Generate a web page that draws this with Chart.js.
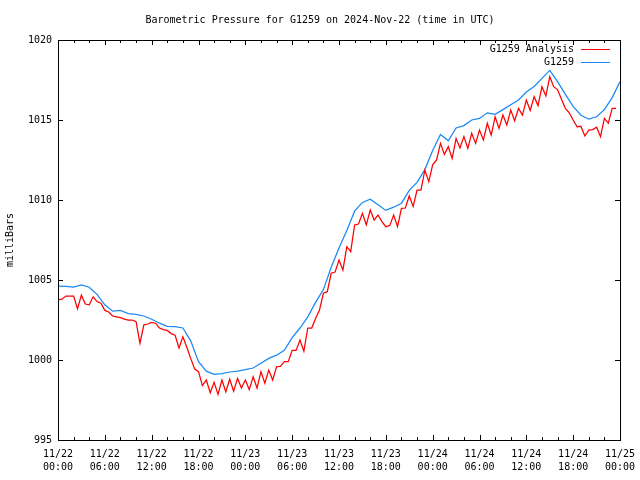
<!DOCTYPE html>
<html>
<head>
<meta charset="utf-8">
<script src="https://cdn.jsdelivr.net/npm/chart.js@4.4.1/dist/chart.umd.min.js"></script>
<style>
  html, body { margin: 0; padding: 0; background: #fff; }
</style>
</head>
<body>
<canvas id="myChart" width="640" height="480"></canvas>
<script>

var chartTitle = 'Barometric Pressure for G1259 on 2024-Nov-22 (time in UTC)';
var yLabel = 'milliBars';
var seriesNames = ['G1259 Analysis', 'G1259'];
var seriesColors = ['#ff0000', '#1a88f5'];

// x axis is hours since 11/22 00:00 UTC
var xTickHours = [0, 6, 12, 18, 24, 30, 36, 42, 48, 54, 60, 66, 72];
var xTickDates = ['11/22', '11/22', '11/22', '11/22', '11/23', '11/23', '11/23', '11/23', '11/24', '11/24', '11/24', '11/24', '11/25'];
var xTickTimes = ['00:00', '06:00', '12:00', '18:00', '00:00', '06:00', '12:00', '18:00', '00:00', '06:00', '12:00', '18:00', '00:00'];
var yTicks = [995, 1000, 1005, 1010, 1015, 1020];

// analysis, every 30 min
var analysisStep = 0.5;
var analysis = [
  1003.75, 1003.8, 1004.0, 1004.0, 1004.0, 1003.2, 1004.05, 1003.5, 1003.45, 1003.95,
  1003.65, 1003.55, 1003.1, 1003.0, 1002.75, 1002.7, 1002.65, 1002.55, 1002.5, 1002.5,
  1002.4, 1001.05, 1002.2, 1002.25, 1002.35, 1002.3, 1002.0, 1001.9, 1001.85, 1001.65,
  1001.55, 1000.75, 1001.45, 1000.8, 1000.1, 999.45, 999.27, 998.4, 998.75, 997.95,
  998.6, 997.85, 998.75, 998.0, 998.8, 998.05, 998.85, 998.25, 998.75, 998.15,
  998.95, 998.25, 999.27, 998.55, 999.37, 998.75, 999.58, 999.6, 999.9, 999.9,
  1000.6, 1000.6, 1001.25, 1000.55, 1002.0, 1002.0, 1002.6, 1003.12, 1004.17, 1004.27,
  1005.42, 1005.5, 1006.25, 1005.62, 1007.08, 1006.77, 1008.44, 1008.5, 1009.17, 1008.45,
  1009.37, 1008.75, 1009.06, 1008.65, 1008.33, 1008.4, 1009.06, 1008.33, 1009.48, 1009.5,
  1010.25, 1009.6, 1010.62, 1010.62, 1011.87, 1011.15, 1012.2, 1012.5, 1013.54, 1012.85,
  1013.33, 1012.6, 1013.85, 1013.25, 1013.96, 1013.23, 1014.17, 1013.54, 1014.37, 1013.75,
  1014.79, 1014.06, 1015.2, 1014.48, 1015.31, 1014.69, 1015.62, 1014.95, 1015.73, 1015.31,
  1016.25, 1015.6, 1016.46, 1015.9, 1017.08, 1016.5, 1017.7, 1017.08, 1016.9, 1016.3,
  1015.73, 1015.45, 1015.0, 1014.58, 1014.6, 1014.0, 1014.37, 1014.4, 1014.55, 1013.96,
  1015.1, 1014.8, 1015.73, 1015.73
];

// station, hourly
var stationStep = 1;
var station = [
  1004.62, 1004.6, 1004.55, 1004.7, 1004.55, 1004.1, 1003.45, 1003.05, 1003.1, 1002.9,
  1002.85, 1002.75, 1002.55, 1002.3, 1002.1, 1002.08, 1002.0, 1001.2, 999.9, 999.3,
  999.1, 999.15, 999.25, 999.3, 999.4, 999.5, 999.8, 1000.1, 1000.3, 1000.6,
  1001.4, 1002.0, 1002.7, 1003.6, 1004.4, 1005.8, 1007.0, 1008.1, 1009.3, 1009.85,
  1010.05, 1009.7, 1009.35, 1009.55, 1009.8, 1010.6, 1011.1, 1011.9, 1013.1, 1014.1,
  1013.7, 1014.5, 1014.65, 1015.0, 1015.1, 1015.45, 1015.35, 1015.65, 1015.95, 1016.25,
  1016.75, 1017.1, 1017.6, 1018.1, 1017.4, 1016.6, 1015.85, 1015.3, 1015.05, 1015.2,
  1015.65, 1016.4, 1017.4
];

function toPoints(values, step) {
  return values.map(function (v, i) { return { x: i * step, y: v }; });
}

var monoFont = '10px "DejaVu Sans Mono", "Liberation Mono", monospace';

// gnuplot look: boxed frame, inward ticks, text drawn around it
var gnuplotFrame = {
  id: 'gnuplotFrame',
  afterDraw: function (chart) {
    var ctx = chart.ctx;
    var a = chart.chartArea;
    var xs = chart.scales.x;
    var ys = chart.scales.y;
    ctx.save();
    ctx.strokeStyle = '#000';
    ctx.lineWidth = 1;
    ctx.strokeRect(Math.round(a.left) + 0.5, Math.round(a.top) + 0.5,
      Math.round(a.right - a.left), Math.round(a.bottom - a.top));

    ctx.beginPath();
    for (var h = xs.min; h <= xs.max; h += 2) {
      var px = Math.round(xs.getPixelForValue(h)) + 0.5;
      var len = (h % 6 === 0) ? 5 : 3;
      ctx.moveTo(px, a.bottom); ctx.lineTo(px, a.bottom - len);
      ctx.moveTo(px, a.top); ctx.lineTo(px, a.top + len);
    }
    yTicks.forEach(function (t) {
      var py = Math.round(ys.getPixelForValue(t)) + 0.5;
      ctx.moveTo(a.left, py); ctx.lineTo(a.left + 5, py);
      ctx.moveTo(a.right, py); ctx.lineTo(a.right - 5, py);
    });
    ctx.stroke();

    ctx.fillStyle = '#000';
    ctx.font = monoFont;
    ctx.textBaseline = 'middle';

    ctx.textAlign = 'right';
    yTicks.forEach(function (t) {
      ctx.fillText(String(t), a.left - 6, ys.getPixelForValue(t));
    });

    ctx.textAlign = 'center';
    xTickHours.forEach(function (h, i) {
      var px = xs.getPixelForValue(h);
      ctx.fillText(xTickDates[i], px, a.bottom + 14);
      ctx.fillText(xTickTimes[i], px, a.bottom + 27);
    });

    ctx.fillText(chartTitle, chart.width / 2, 20);

    ctx.save();
    ctx.translate(10, (a.top + a.bottom) / 2);
    ctx.rotate(-Math.PI / 2);
    ctx.fillText(yLabel, 0, 0);
    ctx.restore();

    // key, top right
    ctx.textAlign = 'right';
    chart.data.datasets.forEach(function (ds, i) {
      var ly = a.top + 9 + i * 13;
      ctx.fillStyle = '#000';
      ctx.fillText(ds.label, a.right - 46, ly);
      ctx.strokeStyle = ds.borderColor;
      ctx.beginPath();
      ctx.moveTo(a.right - 39, Math.round(ly) + 0.5);
      ctx.lineTo(a.right - 10, Math.round(ly) + 0.5);
      ctx.stroke();
    });
    ctx.restore();
  }
};

var ctx = document.getElementById('myChart');

var myLineChart = new Chart(ctx, {
  type: 'line',
  data: {
    datasets: [{
      label: seriesNames[0],
      data: toPoints(analysis, analysisStep),
      borderColor: seriesColors[0],
      borderWidth: 1.25,
      pointRadius: 0,
      tension: 0
    }, {
      label: seriesNames[1],
      data: toPoints(station, stationStep),
      borderColor: seriesColors[1],
      borderWidth: 1.25,
      pointRadius: 0,
      tension: 0
    }]
  },
  options: {
    responsive: false,
    animation: false,
    layout: { padding: { left: 58, right: 20, top: 40, bottom: 40 } },
    plugins: {
      legend: { display: false },
      title: { display: false },
      tooltip: { enabled: false }
    },
    scales: {
      x: { type: 'linear', min: 0, max: 72, display: false },
      y: { type: 'linear', min: 995, max: 1020, display: false }
    }
  },
  plugins: [gnuplotFrame]
});
</script>
</body>
</html>
